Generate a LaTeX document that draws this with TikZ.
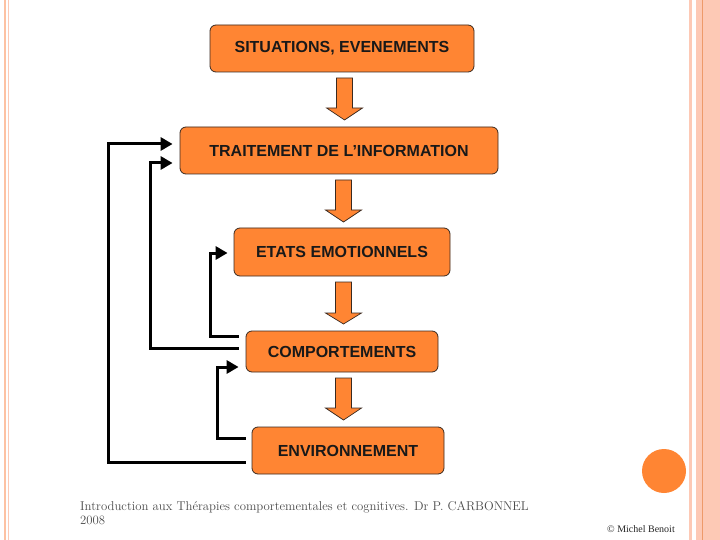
\documentclass[tikz,border=0pt]{standalone}
\usepackage{fontspec}
\setsansfont{Liberation Sans}
\newfontfamily\copyfont{Liberation Serif}
\usetikzlibrary{calc,arrows.meta}
\definecolor{boxorange}{HTML}{FF8533}
\definecolor{bandpink}{HTML}{FDC9B5}
\definecolor{bandline}{HTML}{EE9A6A}
\definecolor{boxedge}{HTML}{3A2A20}
\tikzset{
  stage/.style={draw=boxedge, line width=0.8pt, fill=boxorange, rounded corners=6pt,
    font=\sffamily\bfseries\fontsize{16}{18}\selectfont, text=black!90, inner sep=0pt},
  fb/.style={line width=3pt, -{Triangle[length=12pt,width=13pt]}, line join=miter},
  blockarrow/.style={draw=boxedge, line width=0.7pt, fill=boxorange, line join=miter}
}
\newcommand\bigdown[4]{% x, top, headstart, tip
  \draw[blockarrow] (#1-8,#2) -- (#1+8,#2) -- (#1+8,#3) -- (#1+18,#3) -- (#1,#4) -- (#1-18,#3) -- (#1-8,#3) -- cycle;}
\begin{document}
\begin{tikzpicture}[x=1pt,y=-1pt]
\useasboundingbox (0,0) rectangle (720,540);
\fill[white] (0,0) rectangle (720,540);
% decorative bands
\fill[bandpink!90!orange] (3.5,0) rectangle (6,540);
\fill[bandpink] (8,0) rectangle (9,540);
\fill[bandpink] (689,0) rectangle (692,540);
\fill[bandpink] (696,0) rectangle (720,540);
\draw[bandline, line width=0.9pt] (702,0) -- (702,540);
\fill[boxorange] (664,471) circle (22);
% boxes
\node[stage, minimum width=264pt, minimum height=47pt] (SIT) at (342,48.5) {SITUATIONS, EVENEMENTS};
\node[stage, minimum width=318pt, minimum height=47pt] (TRA) at (339,150.5) {TRAITEMENT DE L’INFORMATION};
\node[stage, minimum width=216pt, minimum height=48pt] (ETA) at (342,252) {ETATS EMOTIONNELS};
\node[stage, minimum width=192pt, minimum height=41pt] (COM) at (342,351.5) {COMPORTEMENTS};
\node[stage, minimum width=192pt, minimum height=47pt] (ENV) at (348,450.5) {ENVIRONNEMENT};
% block arrows
\bigdown{344.5}{78}{108}{120}
\bigdown{343.5}{180}{210}{222}
\bigdown{343.5}{282}{313}{324}
\bigdown{343.5}{378}{408}{420}
% feedback arrows
\coordinate (x1) at (108,0);
\coordinate (x2) at (150,0);
\coordinate (x3) at (210,0);
\coordinate (x4) at (217,0);
\draw[fb] ($(ENV.west)+(-6,11.5)$) -| (x1 |- {$(TRA.west)+(0,-6.5)$}) -- ($(TRA.west)+(-7,-6.5)$);
\draw[fb] ($(COM.west)+(-7,-3.5)$) -| (x2 |- {$(TRA.west)+(0,12.5)$}) -- ($(TRA.west)+(-7,12.5)$);
\draw[fb] ($(COM.west)+(-7,-15.5)$) -| (x3 |- {$(ETA.west)+(0,1)$}) -- ($(ETA.west)+(-6,1)$);
\draw[fb] ($(ENV.west)+(-6,-12.5)$) -| (x4 |- {$(COM.west)+(0,15.5)$}) -- ($(COM.west)+(-7,15.5)$);
% footer
\node[anchor=north west, align=left, inner sep=0pt, text=black!70,
  font=\rmfamily\fontsize{12.75}{14}\selectfont] (foot) at (80,501.5)
  {Introduction aux Thérapies comportementales et cognitives. Dr P. CARBONNEL\\2008};
\node[anchor=west, inner sep=0pt, text=black!85, font=\copyfont\fontsize{10}{12}\selectfont] (copy) at (607,529) {© Michel Benoit};
\end{tikzpicture}
\end{document}
